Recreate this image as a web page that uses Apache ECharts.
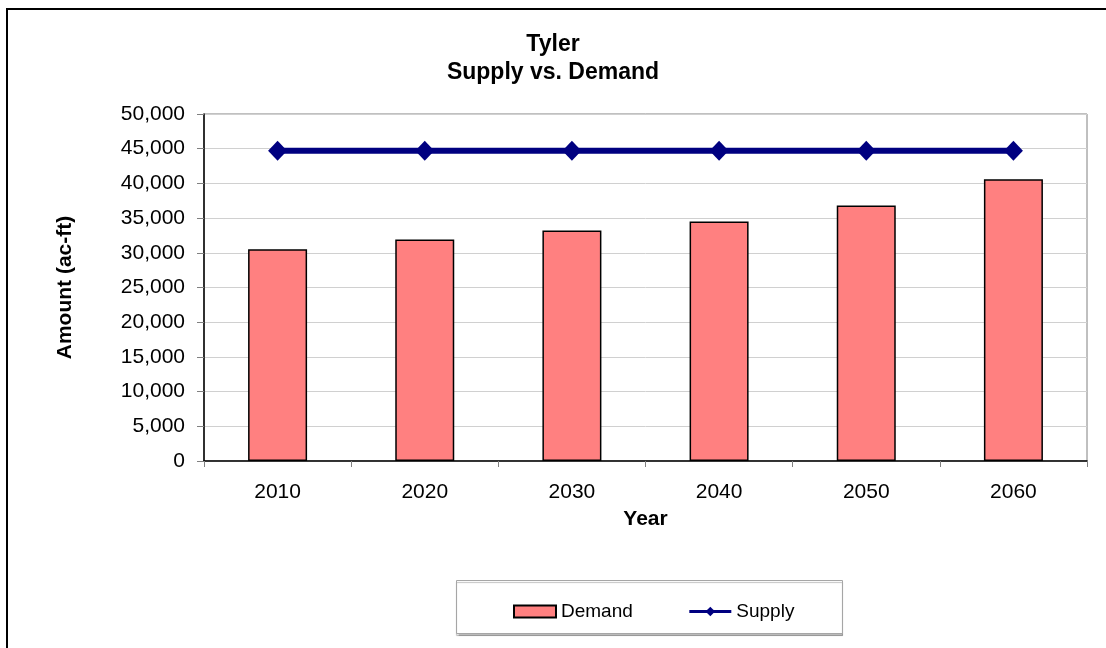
<!DOCTYPE html>
<html>
<head>
<meta charset="utf-8">
<title>Tyler Supply vs. Demand</title>
<script src="https://cdn.jsdelivr.net/npm/echarts@6/dist/echarts.min.js"></script>
<style>
  html, body { margin: 0; padding: 0; background: #fff; }
  #chart { width: 1106px; height: 648px; }
</style>
</head>
<body>
<div id="chart"></div>
<script>
// data
var years = ['2010', '2020', '2030', '2040', '2050', '2060']
var demand = [30500, 31900, 33200, 34500, 36800, 40600]
var supply = [44700, 44700, 44700, 44700, 44700, 44700]

var font = '"Liberation Sans", Arial, sans-serif'

var chart = echarts.init(document.getElementById('chart'))
chart.setOption({
  animation: false,
  textStyle: { fontFamily: font, color: '#000' },
  title: {
    text: 'Tyler\nSupply vs. Demand',
    left: 'center',
    top: 26,
    textStyle: { fontSize: 23, fontWeight: 'bold', lineHeight: 28, color: '#000', fontFamily: font }
  },
  graphic: [
    // outer chart frame, runs off the right and bottom edges
    {
      type: 'rect',
      shape: { x: 7, y: 9, width: 1110, height: 650 },
      style: { fill: 'none', stroke: '#000', lineWidth: 2 },
      silent: true
    },
    // legend box
    {
      type: 'rect',
      shape: { x: 456.5, y: 580.5, width: 386, height: 53 },
      style: {
        fill: '#fff', stroke: '#a6a6a6', lineWidth: 1,
        shadowColor: 'rgba(0,0,0,0.25)', shadowOffsetY: 2, shadowBlur: 1
      },
      z: -1,
      silent: true
    }
  ],
  legend: {
    left: 508,
    top: 597,
    itemWidth: 42,
    itemHeight: 12,
    itemGap: 55,
    textStyle: { fontSize: 19, color: '#000', fontFamily: font },
    lineStyle: { width: 3 },
    data: [
      { name: 'Demand', icon: 'rect' },
      { name: 'Supply' }
    ]
  },
  grid: {
    left: 204,
    top: 114,
    right: 19,
    bottom: 187,
    show: true,
    borderColor: '#808080',
    borderWidth: 1
  },
  xAxis: {
    type: 'category',
    data: years,
    name: 'Year',
    nameLocation: 'middle',
    nameGap: 48,
    nameTextStyle: { fontSize: 21, fontWeight: 'bold', color: '#000' },
    axisLine: { lineStyle: { color: '#000', width: 1.5 } },
    axisTick: { show: true, length: 6, lineStyle: { color: '#808080' } },
    axisLabel: { fontSize: 21, color: '#000', margin: 21 }
  },
  yAxis: {
    type: 'value',
    min: 0,
    max: 50000,
    interval: 5000,
    name: 'Amount (ac-ft)',
    nameLocation: 'middle',
    nameGap: 128,
    nameRotate: 90,
    nameTextStyle: { fontSize: 21, fontWeight: 'bold', color: '#000' },
    axisLine: { show: true, lineStyle: { color: '#000', width: 1.5 } },
    axisTick: { show: true, length: 7, lineStyle: { color: '#808080' } },
    axisLabel: {
      fontSize: 21,
      color: '#000',
      margin: 19,
      formatter: function (v) { return v.toLocaleString('en-US') }
    },
    splitLine: { lineStyle: { color: '#d0d0d0', width: 1 } }
  },
  series: [
    {
      name: 'Demand',
      type: 'bar',
      data: demand,
      barWidth: 59,
      itemStyle: { color: '#ff8080', borderColor: '#000', borderWidth: 1.5 }
    },
    {
      name: 'Supply',
      type: 'line',
      data: supply,
      symbol: 'diamond',
      symbolSize: [19, 20],
      lineStyle: { color: '#000080', width: 6 },
      itemStyle: { color: '#000080' }
    }
  ]
})
</script>
</body>
</html>
